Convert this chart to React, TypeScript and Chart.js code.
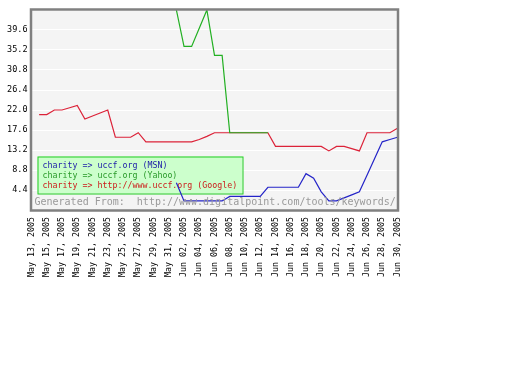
import React, { useEffect, useRef } from "react";
import { Chart, registerables } from "chart.js";

Chart.register(...registerables);

const dates = [
  "May 13, 2005", "May 14, 2005", "May 15, 2005", "May 16, 2005", "May 17, 2005",
  "May 18, 2005", "May 19, 2005", "May 20, 2005", "May 21, 2005", "May 22, 2005",
  "May 23, 2005", "May 24, 2005", "May 25, 2005", "May 26, 2005", "May 27, 2005",
  "May 28, 2005", "May 29, 2005", "May 30, 2005", "May 31, 2005", "Jun 01, 2005",
  "Jun 02, 2005", "Jun 03, 2005", "Jun 04, 2005", "Jun 05, 2005", "Jun 06, 2005",
  "Jun 07, 2005", "Jun 08, 2005", "Jun 09, 2005", "Jun 10, 2005", "Jun 11, 2005",
  "Jun 12, 2005", "Jun 13, 2005", "Jun 14, 2005", "Jun 15, 2005", "Jun 16, 2005",
  "Jun 17, 2005", "Jun 18, 2005", "Jun 19, 2005", "Jun 20, 2005", "Jun 21, 2005",
  "Jun 22, 2005", "Jun 23, 2005", "Jun 24, 2005", "Jun 25, 2005", "Jun 26, 2005",
  "Jun 27, 2005", "Jun 28, 2005", "Jun 29, 2005", "Jun 30, 2005",
];

const msnRank = [
  null, null, null, null, null, null, null, null, null, null,
  null, null, null, null, null, null, null, null, null, 6,
  2, 2, 2, 2, 2, 2, 3, 3, 3, 3,
  3, 5, 5, 5, 5, 5, 8, 7, 4, 2,
  2, 2.67, 3.33, 4, 7.67, 11.33, 15, 15.5, 16,
];

const yahooRank = [
  null, null, null, null, null, null, null, null, null, null,
  null, null, null, null, null, null, null, null, null, 44,
  36, 36, 40, 44, 34, 34, 17, 17, 17, 17,
  17, 17, null, null, null, null, null, null, null, null,
  null, null, null, null, null, null, null, null, null,
];

const googleRank = [
  null, 21, 21, 22, 22, 22.5, 23, 20, 20.67, 21.33,
  22, 16, 16, 16, 17, 15, 15, 15, 15, 15,
  15, 15, 15.5, 16.2, 17, 17, 17, 17, 17, 17,
  17, 17, 14, 14, 14, 14, 14, 14, 14, 13,
  14, 14, 13.5, 13, 17, 17, 17, 17, 18,
];

const yTickValues = [4.4, 8.8, 13.2, 17.6, 22.0, 26.4, 30.8, 35.2, 39.6];
const yMin = 0;
const yMax = 44;

const seriesNames = [
  "charity => uccf.org (MSN)",
  "charity => uccf.org (Yahoo)",
  "charity => http://www.uccf.org (Google)",
];
const seriesColors = ["#2424c8", "#22b022", "#dc2238"];
const textColors = ["#1c1ca8", "#2a9a2a", "#cc1a1a"];
const footerText = "Generated From:  http://www.digitalpoint.com/tools/keywords/";

const MONO = "'DejaVu Sans Mono', 'Liberation Mono', monospace";

export default function App() {
  const ref = useRef<HTMLCanvasElement | null>(null);

  useEffect(() => {
    const canvas = ref.current;
    if (!canvas) return;

    const decor = {
      id: "decor",
      beforeDraw(chart: any) {
        const { ctx, chartArea: a } = chart;
        ctx.save();
        ctx.fillStyle = "#f4f4f4";
        ctx.fillRect(a.left, a.top, a.right - a.left, a.bottom - a.top);
        ctx.restore();
      },
      beforeDatasetsDraw(chart: any) {
        const { ctx, chartArea: a } = chart;
        ctx.save();
        const bx = a.left + 6;
        const by = a.top + 146.5;
        ctx.fillStyle = "#ccffcc";
        ctx.fillRect(bx, by, 205, 37);
        ctx.strokeStyle = "#22cc22";
        ctx.lineWidth = 1;
        ctx.strokeRect(bx + 0.5, by + 0.5, 205, 37);
        ctx.font = `8.3px ${MONO}`;
        ctx.textBaseline = "middle";
        ctx.textAlign = "left";
        seriesNames.forEach((n, i) => {
          ctx.fillStyle = textColors[i];
          ctx.fillText(n, bx + 5, by + 9 + i * 10);
        });
        ctx.restore();
      },
      afterDatasetsDraw(chart: any) {
        const { ctx, chartArea: a } = chart;
        ctx.save();
        ctx.font = `10px ${MONO}`;
        ctx.fillStyle = "#9a9a9a";
        ctx.textBaseline = "middle";
        ctx.textAlign = "left";
        ctx.fillText(footerText, a.left + 3, a.bottom - 7.5);
        ctx.strokeStyle = "#808080";
        ctx.lineWidth = 2.5;
        ctx.strokeRect(a.left - 0.5, a.top - 0.5, a.right - a.left + 1, a.bottom - a.top + 1);
        ctx.restore();
      },
    };

    const chart = new Chart(canvas, {
      type: "line",
      data: {
        labels: dates,
        datasets: [msnRank, yahooRank, googleRank].map((d, i) => ({
          label: seriesNames[i],
          data: d,
          borderColor: seriesColors[i],
          backgroundColor: seriesColors[i],
          borderWidth: 1.2,
          pointRadius: 0,
          tension: 0,
          spanGaps: false,
        })),
      },
      options: {
        animation: false,
        responsive: false,
        maintainAspectRatio: false,
        layout: { padding: { top: 10, left: 0, right: 114.5, bottom: 0 } },
        plugins: { legend: { display: false }, tooltip: { enabled: false } },
        scales: {
          x: {
            type: "category",
            grid: { display: false, drawTicks: false },
            border: { display: false },
            afterFit(scale: any) {
              scale.height = 174;
            },
            ticks: {
              autoSkip: false,
              minRotation: 90,
              maxRotation: 90,
              padding: 7,
              color: "#000",
              font: { family: MONO, size: 8.3 },
              callback: (_v: any, i: number) => (i % 2 === 0 ? dates[i] : ""),
            },
          },
          y: {
            type: "linear",
            min: yMin,
            max: yMax,
            afterFit(scale: any) {
              scale.width = 31.5;
            },
            afterBuildTicks(scale: any) {
              scale.ticks = [yMin, ...yTickValues, yMax].map((v) => ({ value: v }));
            },
            grid: { color: "#ffffff", lineWidth: 1, drawTicks: false },
            border: { display: false },
            ticks: {
              padding: 4,
              color: "#000",
              font: { family: MONO, size: 8.5 },
              callback: (v: any) =>
                yTickValues.some((t) => Math.abs(t - Number(v)) < 1e-6) ? Number(v).toFixed(1) : "",
            },
          },
        },
      },
      plugins: [decor],
    });

    return () => chart.destroy();
  }, []);

  return (
    <div style={{ position: "absolute", left: 0, top: 0, width: 512, height: 384 }}>
      <canvas ref={ref} width={512} height={384} style={{ width: 512, height: 384 }} />
    </div>
  );
}
